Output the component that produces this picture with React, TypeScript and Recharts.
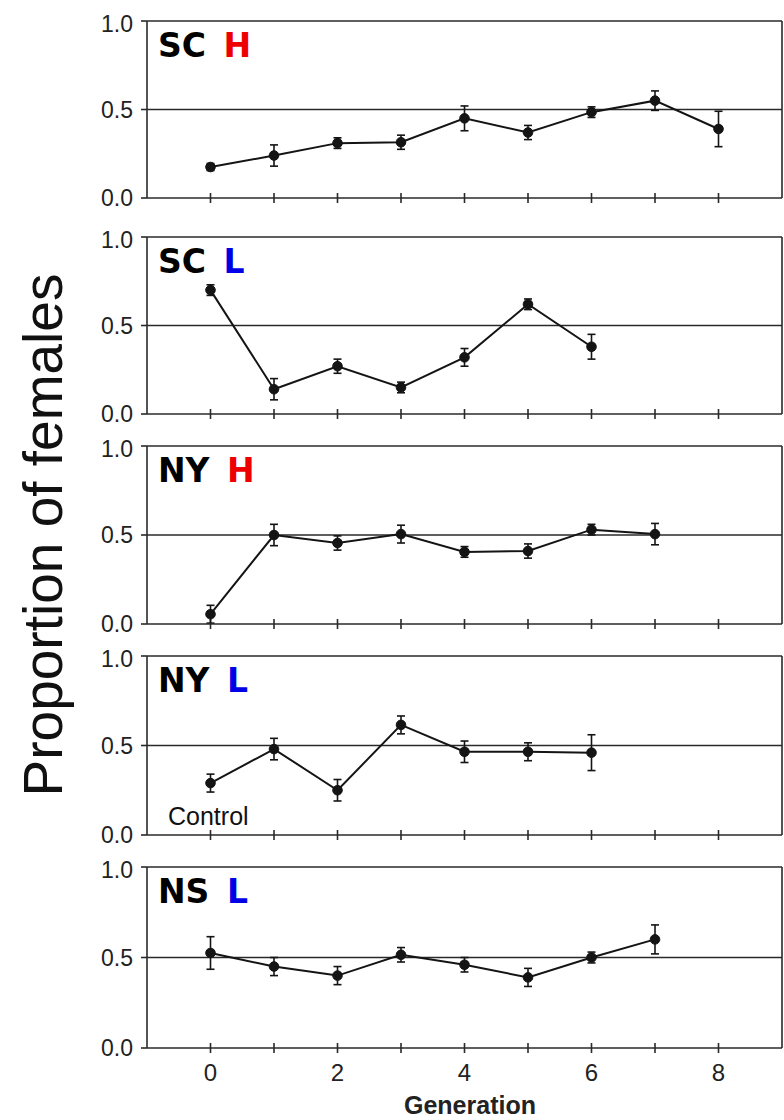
import { LineChart, Line, XAxis, YAxis, ErrorBar, ReferenceLine } from "recharts";

const generations = [0, 1, 2, 3, 4, 5, 6, 7, 8];
const xTicks = [0, 1, 2, 3, 4, 5, 6, 7, 8];
const xLabelTicks = [0, 2, 4, 6, 8];
const yTicks = [0, 0.5, 1];

const scHigh = [0.175, 0.24, 0.31, 0.315, 0.45, 0.37, 0.485, 0.55, 0.39];
const scHighErr = [0.02, 0.06, 0.03, 0.04, 0.07, 0.04, 0.03, 0.055, 0.1];
const scLow = [0.7, 0.14, 0.27, 0.15, 0.32, 0.62, 0.38];
const scLowErr = [0.03, 0.06, 0.04, 0.03, 0.05, 0.03, 0.07];
const nyHigh = [0.055, 0.5, 0.455, 0.505, 0.405, 0.41, 0.53, 0.505];
const nyHighErr = [0.05, 0.06, 0.04, 0.05, 0.03, 0.04, 0.03, 0.06];
const nyLow = [0.29, 0.48, 0.25, 0.615, 0.465, 0.465, 0.46];
const nyLowErr = [0.05, 0.06, 0.06, 0.05, 0.06, 0.05, 0.1];
const nsLow = [0.525, 0.45, 0.4, 0.515, 0.46, 0.39, 0.5, 0.6];
const nsLowErr = [0.09, 0.05, 0.05, 0.04, 0.04, 0.05, 0.03, 0.08];

const panels = [
  { site: "SC", level: "H", values: scHigh, errors: scHighErr },
  { site: "SC", level: "L", values: scLow, errors: scLowErr },
  { site: "NY", level: "H", values: nyHigh, errors: nyHighErr },
  { site: "NY", level: "L", values: nyLow, errors: nyLowErr },
  { site: "NS", level: "L", values: nsLow, errors: nsLowErr },
];

const levelColors: Record<string, string> = { H: "#ee0000", L: "#0000e6" };

// layout: pixel top of the 1.0 line and plot height for each panel
const plotTops = [21, 237, 446, 656, 867];
const plotHeights = [177, 177, 178, 179, 181];

const AXIS = "#2a2a2a";
const INK = "#141414";
const FONT = "'Liberation Sans', Arial, Helvetica, sans-serif";

function GenLabel(props: any) {
  const { x, y, payload, showLabel } = props;
  const v = payload.value;
  if (!showLabel || !xLabelTicks.includes(v)) return <g />;
  return (
    <text x={x} y={y + 33} textAnchor="middle" fontSize={24} fontFamily={FONT} fill="#222">
      {v}
    </text>
  );
}

function Panel({ index }: { index: number }) {
  const p = panels[index];
  const data = p.values.map((v, i) => ({ gen: generations[i], value: v, err: p.errors[i] }));
  const isLast = index === panels.length - 1;
  const top = 10;
  const xAxisH = 40;
  const h = top + plotHeights[index] + xAxisH;
  // tick half-length in data units (about 5px)
  const tickHalf = 5 / plotHeights[index];
  return (
    <div style={{ position: "absolute", left: 0, top: plotTops[index] - top }}>
      <LineChart width={784} height={h} data={data} margin={{ top, right: 2, left: 0, bottom: 0 }}>
        <XAxis
          dataKey="gen"
          type="number"
          domain={[-1, 9]}
          ticks={xTicks}
          interval={0}
          height={xAxisH}
          tickSize={0}
          tickMargin={0}
          tickLine={false}
          axisLine={{ stroke: AXIS, strokeWidth: 1.6 }}
          tick={(tp: any) => <GenLabel {...tp} showLabel={isLast} />}
        />
        <YAxis
          type="number"
          domain={[0, 1]}
          ticks={yTicks}
          width={147}
          tickSize={6}
          tickMargin={8}
          tickFormatter={(v: number) => v.toFixed(1)}
          tick={{ fontSize: 23, fontFamily: FONT, fill: "#222" }}
          tickLine={{ stroke: AXIS, strokeWidth: 1.6 }}
          axisLine={{ stroke: AXIS, strokeWidth: 1.6 }}
        />
        <ReferenceLine y={1} stroke={AXIS} strokeWidth={1.6} />
        <ReferenceLine y={0.5} stroke={AXIS} strokeWidth={1.6} />
        <ReferenceLine x={9} stroke={AXIS} strokeWidth={1.6} />
        {xTicks.map((g) => (
          <ReferenceLine
            key={g}
            segment={[
              { x: g, y: -tickHalf },
              { x: g, y: tickHalf },
            ]}
            ifOverflow="visible"
            stroke={AXIS}
            strokeWidth={1.6}
          />
        ))}
        <Line
          dataKey="value"
          stroke={INK}
          strokeWidth={2}
          dot={{ r: 4.8, fill: INK, stroke: INK, strokeWidth: 1 }}
          isAnimationActive={false}
        >
          <ErrorBar dataKey="err" direction="y" width={4} stroke={INK} strokeWidth={1.6} />
        </Line>
      </LineChart>
    </div>
  );
}

export default function App() {
  return (
    <div style={{ position: "absolute", left: 0, top: 0, width: 784, height: 1120, background: "#fff" }}>
      {panels.map((_, i) => (
        <Panel key={i} index={i} />
      ))}
      <svg
        width={784}
        height={1120}
        style={{ position: "absolute", left: 0, top: 0, pointerEvents: "none" }}
      >
        <text
          transform="translate(62,535) rotate(-90)"
          textAnchor="middle"
          fontSize={55}
          fontFamily={FONT}
          fill="#111"
        >
          Proportion of females
        </text>
        {panels.map((p, i) => (
          <text
            key={i}
            x={158}
            y={plotTops[i] + 36}
            fontSize={33}
            fontWeight="bold"
            fontFamily="'DejaVu Sans', Verdana, sans-serif"
            fill="#000"
          >
            {p.site}
            <tspan dx={6} fill={levelColors[p.level]}>
              {" " + p.level}
            </tspan>
          </text>
        ))}
        <text x={168} y={825} fontSize={25} fontFamily={FONT} fill="#111">
          Control
        </text>
        <text x={470} y={1114} textAnchor="middle" fontSize={25} fontWeight="bold" fontFamily={FONT} fill="#222">
          Generation
        </text>
      </svg>
    </div>
  );
}
